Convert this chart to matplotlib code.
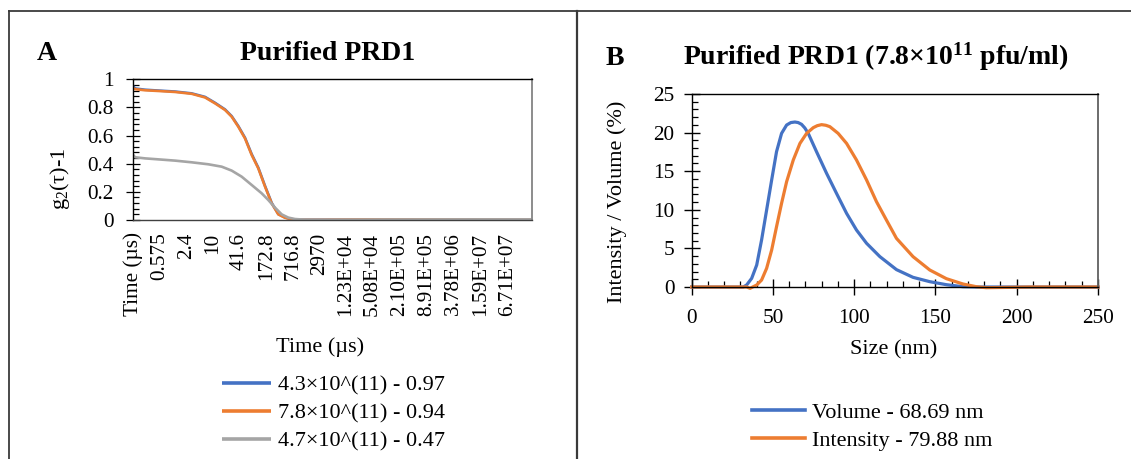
import matplotlib
matplotlib.use('Agg')
import matplotlib.pyplot as plt
from matplotlib.ticker import MultipleLocator, FixedLocator, NullLocator
from matplotlib.lines import Line2D

plt.rcParams['font.family'] = ['Liberation Serif', 'DejaVu Serif']
plt.rcParams['mathtext.fontset'] = 'custom'
plt.rcParams['mathtext.rm'] = 'Liberation Serif'
plt.rcParams['mathtext.it'] = 'Liberation Serif:italic'
plt.rcParams['mathtext.bf'] = 'Liberation Serif:bold'

BLUE = '#4472C4'
ORANGE = '#ED7D31'
GRAY = '#A5A5A5'

# ---------------- Panel A data ----------------
time_ticks = [0.1378, 0.575, 2.4, 10, 41.6, 172.8, 716.8, 2970, 1.23e4, 5.08e4,
              2.10e5, 8.91e5, 3.78e6, 1.59e7, 6.71e7]
time_labels = ['Time (µs)', '0.575', '2.4', '10', '41.6', '172.8', '716.8', '2970',
               '1.23E+04', '5.08E+04', '2.10E+05', '8.91E+05', '3.78E+06',
               '1.59E+07', '6.71E+07']

tau_bo = [0.138, 0.156, 0.266, 0.541, 1.32, 3.22, 6.56, 11.2, 19.1, 27.3, 38.8,
          55.5, 79.4, 113, 162, 231, 329, 470, 673, 957, 3000, 3e4, 1e6, 1e8, 2.5e8]
g2_43 = [0.955, 0.935, 0.926, 0.920, 0.913, 0.900, 0.875, 0.833, 0.786, 0.738, 0.668,
         0.585, 0.468, 0.372, 0.242, 0.122, 0.042, 0.018, 0.006, 0.002, 0.002, 0.002,
         0.002, 0.002, 0.002]
g2_78 = [0.940, 0.930, 0.922, 0.917, 0.910, 0.897, 0.871, 0.829, 0.782, 0.734, 0.663,
         0.580, 0.462, 0.367, 0.237, 0.118, 0.040, 0.016, 0.005, 0.001, 0.001, 0.003,
         0.003, 0.002, 0.002]
tau_g = [0.138, 0.156, 0.266, 0.541, 1.32, 3.22, 7.82, 16.0, 27.3, 46.5, 79.4, 135,
         193, 276, 394, 561, 802, 1370, 5000, 1e5, 1e7, 2.5e8]
g2_47 = [0.467, 0.446, 0.438, 0.431, 0.422, 0.410, 0.396, 0.379, 0.351, 0.308, 0.249,
         0.190, 0.142, 0.088, 0.040, 0.017, 0.007, 0.002, 0.001, 0.003, 0.004, 0.004]
labels_a = ['4.3×10^(11) - 0.97', '7.8×10^(11) - 0.94', '4.7×10^(11) - 0.47']

# ---------------- Panel B data ----------------
size_vol = [0, 31.7, 33.8, 36.9, 40.0, 43.0, 46.1, 49.2, 52.2, 55.3, 58.4, 61.0, 63.5,
            65.5, 67.6, 69.6, 71.7, 76.8, 83.0, 89.1, 95.3, 101.4, 107.6, 115.8, 126.0,
            136.2, 146.5, 156.7, 166.9, 175, 250]
volume = [0, 0, 0.26, 1.12, 2.85, 6.09, 9.97, 13.86, 17.53, 19.9, 20.98, 21.3, 21.37,
          21.3, 21.07, 20.6, 19.9, 17.53, 14.72, 12.13, 9.54, 7.38, 5.66, 3.93, 2.25,
          1.25, 0.69, 0.30, 0.04, 0, 0]
size_int = [0, 33.8, 35.9, 40.0, 43.0, 46.1, 49.2, 52.2, 55.3, 58.4, 62.5, 66.6, 70.7,
            74.8, 77.3, 79.9, 82.5, 85.0, 90.1, 95.3, 101.4, 107.6, 113.7, 119.8, 126.0,
            136.2, 146.5, 156.7, 166.9, 175.1, 181.2, 197.6, 207.8, 250]
intensity = [0, 0, -0.17, 0.26, 0.9, 2.42, 4.79, 7.81, 10.84, 13.64, 16.45, 18.6, 19.9,
             20.64, 20.9, 21.03, 20.95, 20.77, 19.9, 18.6, 16.45, 13.86, 11.05, 8.68,
             6.3, 3.93, 2.2, 1.08, 0.39, 0.04, -0.09, -0.04, 0, 0]
labels_b = ['Volume - 68.69 nm', 'Intensity - 79.88 nm']

W, H = 1131, 459
fig = plt.figure(figsize=(W / 100, H / 100), dpi=100)


def fx(px):
    return px / W


def fy(py):
    return 1 - py / H


TICK_FS = 15.3
LAB_FS = 16
TITLE_FS = 20

# ---------------- Panel A ----------------
axA = fig.add_axes([fx(132.7), fy(220), fx(532) - fx(132.7), fy(79.3) - fy(220)])
lA1, = axA.plot(tau_bo, g2_43, color=BLUE, lw=1.9, solid_capstyle='butt')
lA2, = axA.plot(tau_bo, g2_78, color=ORANGE, lw=1.9, solid_capstyle='butt')
lA3, = axA.plot(tau_g, g2_47, color=GRAY, lw=1.9, solid_capstyle='butt')
axA.set_xscale('log')
axA.set_xlim(0.1378, 2.53e8)
axA.set_ylim(0, 1)
axA.xaxis.set_major_locator(FixedLocator(time_ticks))
axA.xaxis.set_minor_locator(NullLocator())
axA.set_xticklabels(time_labels, rotation=90, fontsize=TICK_FS)
axA.tick_params(axis='x', which='both', length=0, pad=9)
axA.yaxis.set_minor_locator(MultipleLocator(0.04))
axA.set_yticks([0, 0.2, 0.4, 0.6, 0.8, 1.0])
axA.set_yticklabels(['0', '0.2', '0.4', '0.6', '0.8', '1'], fontsize=TICK_FS)
axA.tick_params(axis='y', which='major', direction='inout', length=9.5, width=0.9, pad=9)
axA.tick_params(axis='y', which='minor', direction='in', length=4, width=0.9)
for s in ['left', 'bottom', 'top']:
    axA.spines[s].set_color('black')
    axA.spines[s].set_linewidth(1.0)
axA.spines['right'].set_color('#8c8c8c')
axA.spines['right'].set_linewidth(1.4)
axA.spines['bottom'].set_color('#404040')

fig.text(fx(60), fy(179), r'g$_2$(τ)-1', rotation=90, ha='center', va='center',
         fontsize=LAB_FS)
fig.text(fx(320.5), fy(347), 'Time (µs)', ha='center', va='center', fontsize=LAB_FS)
fig.text(fx(47), fy(60), 'A', ha='center', va='baseline', fontsize=TITLE_FS,
         fontweight='bold')
fig.text(fx(328), fy(60), 'Purified PRD1', ha='center', va='baseline',
         fontsize=TITLE_FS, fontweight='bold')

legA = fig.legend([lA1, lA2, lA3], labels_a, loc='upper left',
                  bbox_to_anchor=(fx(222), fy(375)), frameon=False, fontsize=LAB_FS,
                  handlelength=2.2, handletextpad=0.3, labelspacing=0.33,
                  borderpad=0, borderaxespad=0)
for h in legA.legend_handles:
    h.set_linewidth(2.6)

# ---------------- Panel B ----------------
axB = fig.add_axes([fx(691.7), fy(287), fx(1098) - fx(691.7), fy(94) - fy(287)])
lB1, = axB.plot(size_vol, volume, color=BLUE, lw=2.3, clip_on=False)
lB2, = axB.plot(size_int, intensity, color=ORANGE, lw=2.3, clip_on=False)
axB.set_xlim(0, 250)
axB.set_ylim(0, 25)
axB.xaxis.set_major_locator(MultipleLocator(50))
axB.xaxis.set_minor_locator(MultipleLocator(10))
axB.yaxis.set_major_locator(MultipleLocator(5))
axB.yaxis.set_minor_locator(MultipleLocator(1))
axB.tick_params(axis='both', which='major', direction='inout', length=11, width=1.0,
                labelsize=TICK_FS)
axB.tick_params(axis='x', which='major', pad=10)
axB.tick_params(axis='y', which='major', pad=7)
axB.tick_params(axis='both', which='minor', direction='in', length=4, width=0.9)
for s in ['left', 'bottom', 'top']:
    axB.spines[s].set_color('black')
    axB.spines[s].set_linewidth(1.0)
axB.spines['right'].set_color('#606060')
axB.spines['right'].set_linewidth(1.3)

fig.text(fx(617), fy(202), 'Intensity / Volume (%)', rotation=90, ha='center',
         va='center', fontsize=LAB_FS)
fig.text(fx(894), fy(350), 'Size (nm)', ha='center', va='center', fontsize=LAB_FS)
fig.text(fx(615), fy(65), 'B', ha='center', va='baseline', fontsize=TITLE_FS,
         fontweight='bold')
fig.text(fx(875.5), fy(65), r'Purified PRD1 (7.8×10$^{\mathbf{11}}$ pfu/ml)',
         ha='center', va='baseline', fontsize=TITLE_FS, fontweight='bold')

legB = fig.legend([lB1, lB2], labels_b, loc='upper left',
                  bbox_to_anchor=(fx(752), fy(402)), frameon=False, fontsize=LAB_FS,
                  handlelength=2.4, handletextpad=0.28, labelspacing=0.36,
                  borderpad=0, borderaxespad=0)
for h in legB.legend_handles:
    h.set_linewidth(2.6)

# ---------------- Panel borders ----------------
bc = '#3a3a3a'
fig.add_artist(Line2D([fx(9), fx(9)], [fy(11), 0], transform=fig.transFigure,
                      color=bc, lw=1.3))
fig.add_artist(Line2D([fx(9), 1], [fy(11), fy(11)], transform=fig.transFigure,
                      color=bc, lw=1.3))
fig.add_artist(Line2D([fx(577), fx(577)], [fy(11), 0], transform=fig.transFigure,
                      color=bc, lw=1.6))

fig.savefig('out.png', dpi=100)
